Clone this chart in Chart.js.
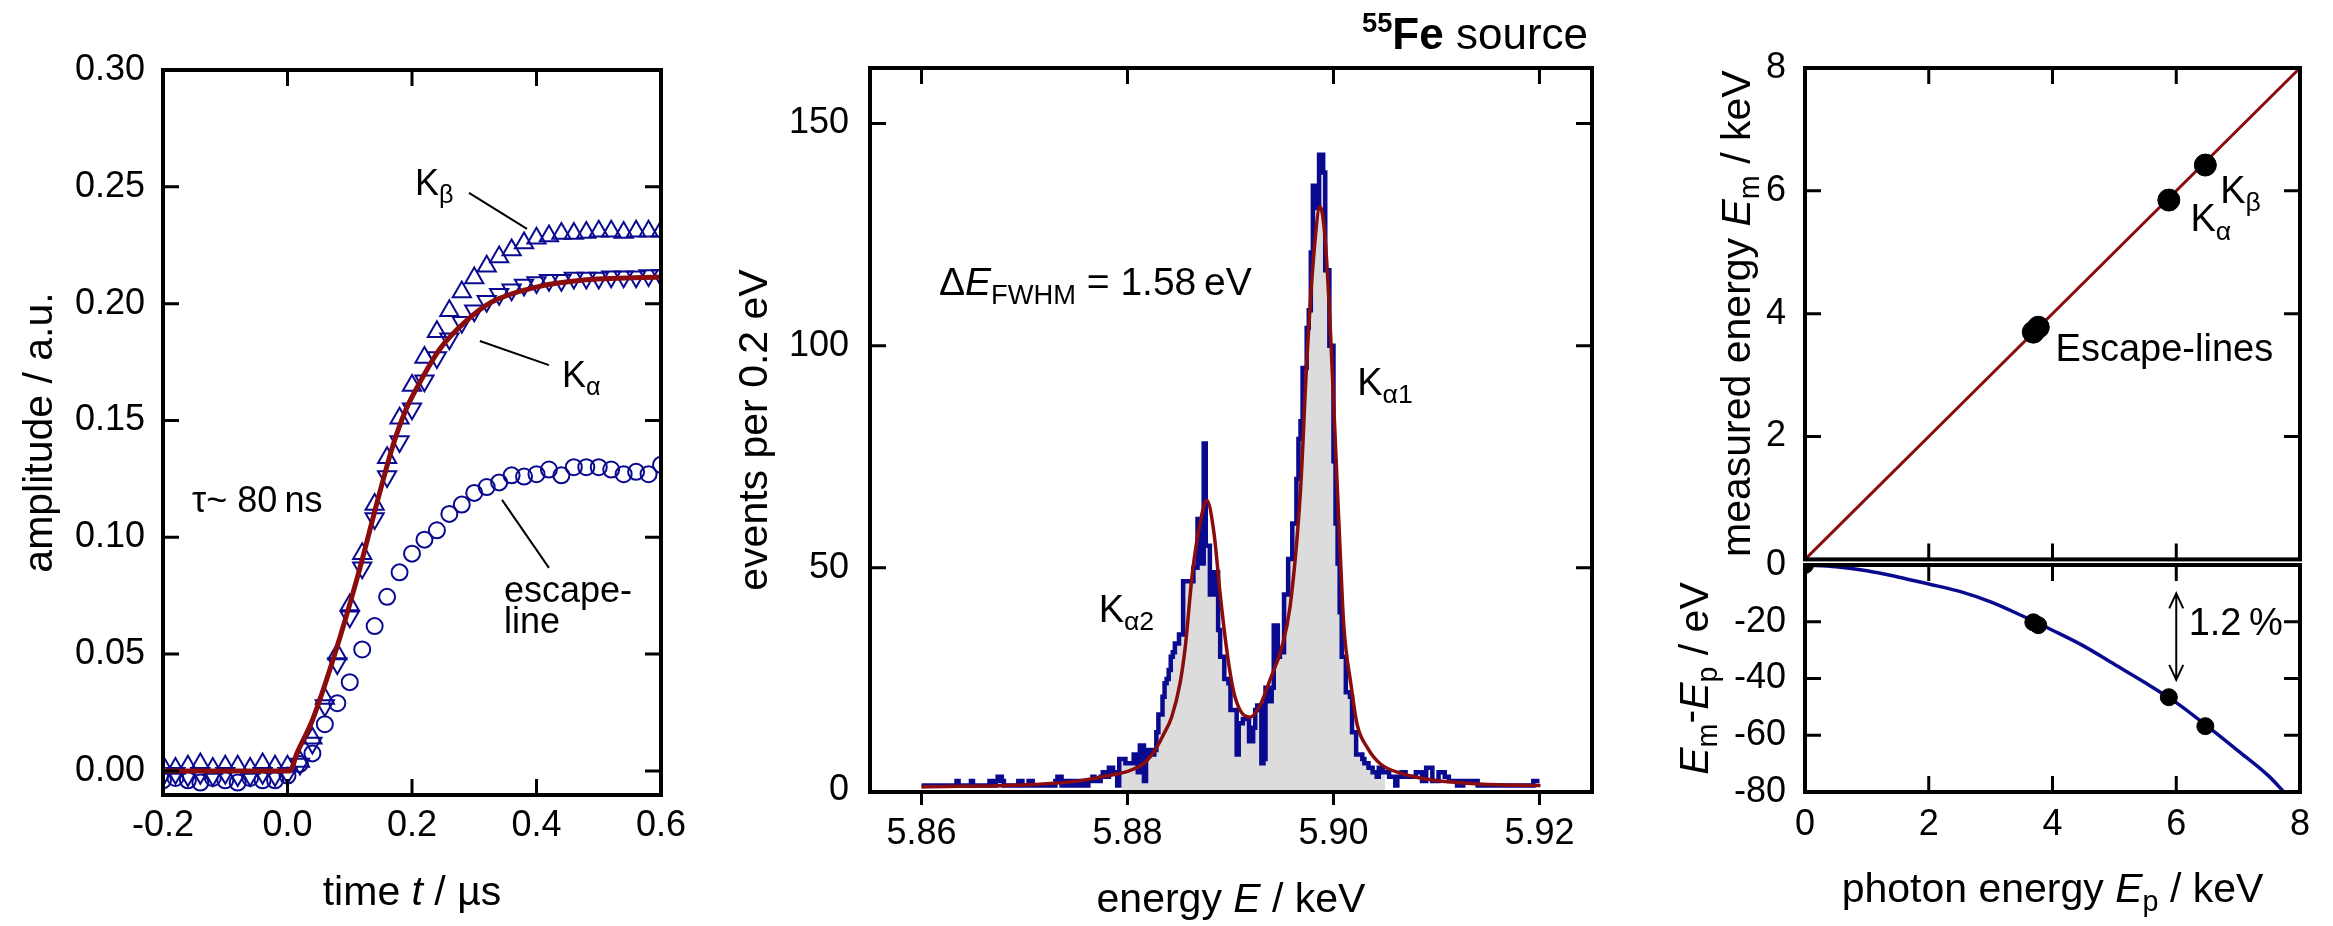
<!DOCTYPE html>
<html>
<head>
<meta charset="utf-8">
<script src="https://cdn.jsdelivr.net/npm/chart.js@4.4.1/dist/chart.umd.min.js"></script>
<style>
body { margin: 0; background: #fff; }
#wrap { position: relative; width: 2333px; height: 926px; overflow: hidden; background: #fff; }
canvas { position: absolute; }
</style>
</head>
<body>
<div id="wrap">
  <canvas id="c1" width="700" height="926" style="left:0;top:0"></canvas>
  <canvas id="c2" width="900" height="926" style="left:700px;top:0"></canvas>
  <canvas id="c3" width="733" height="600" style="left:1600px;top:0"></canvas>
  <canvas id="c4" width="733" height="426" style="left:1600px;top:500px"></canvas>
</div>
<script>
/*====== data: pulse shapes =======*/
const tAxis = [-0.20,-0.18,-0.16,-0.14,-0.12,-0.10,-0.08,-0.06,-0.04,-0.02,
  0.00,0.02,0.04,0.06,0.08,0.10,0.12,0.14,0.16,0.18,0.20,0.22,0.24,0.26,0.28,0.30,
  0.32,0.34,0.36,0.38,0.40,0.42,0.44,0.46,0.48,0.50,0.52,0.54,0.56,0.58,0.60];
const kBeta = [0.002,0.001,0.002,0.003,0.001,0.002,0.002,0.001,0.003,0.002,
  0.002,0.004,0.014,0.031,0.050,0.071,0.093,0.114,0.134,0.151,0.165,0.177,0.188,0.197,0.205,0.211,
  0.216,0.220,0.223,0.226,0.228,0.229,0.230,0.230,0.2305,0.231,0.231,0.2305,0.231,0.231,0.231];
const kAlpha = [-0.002,-0.001,-0.002,-0.001,-0.002,-0.001,-0.002,-0.002,-0.001,-0.002,
  -0.001,0.003,0.012,0.028,0.046,0.066,0.087,0.108,0.126,0.141,0.155,0.167,0.177,0.185,0.192,0.197,
  0.201,0.204,0.206,0.208,0.209,0.210,0.210,0.211,0.211,0.211,0.2115,0.2115,0.2115,0.212,0.212];
const escLine = [-0.004,-0.003,-0.004,-0.005,-0.003,-0.004,-0.005,-0.003,-0.004,-0.004,
  -0.002,0.003,0.0075,0.020,0.029,0.038,0.052,0.062,0.0745,0.085,0.093,0.099,0.103,0.110,0.114,0.119,
  0.1215,0.1235,0.1265,0.126,0.127,0.129,0.1265,0.130,0.130,0.130,0.129,0.127,0.128,0.127,0.131];
const pulseFitT = [-0.2,0.004,0.015,0.04,0.076,0.112,0.148,0.169,0.19,0.213,0.245,0.285,0.328,0.4,0.472,0.6];
const pulseFitA = [0,0,0.0075,0.0217,0.05,0.0826,0.119,0.139,0.1545,0.1665,0.1807,0.1921,0.2007,0.2071,0.21,0.2114];
const pulseXTicks = [-0.2,0.0,0.2,0.4,0.6];
const pulseYTicks = [0,0.05,0.10,0.15,0.20,0.25,0.30];

/*====== data: spectrum, 0.2 eV bins from 5.860 keV =======*/
const binStart = 5.86, binWidth = 0.0002;
const counts = [
  1,1,1,1,1,1,1,1,1,1, 1,1,1,1,1,1,1,1,2,1, 1,1,1,1,1,2,1,1,1,1, 1,1,1,1,2,1,1,2,3,3,
  2,1,1,1,1,1,1,1,2,2, 1,1,1,2,2,1,1,1,1,1, 1,1,1,1,1,1,2,3,3,1, 1,2,2,1,1,2,2,1,2,1,
  2,1,2,2,3,2,2,2,3,4, 3,3,5,5,4,4,1,7,7,7, 6,6,6,6,8,8,4,10,10,2, 9,9,8,8,9,13,17,17,21,24,
  25,27,30,31,33,33,35,35,47,47, 47,47,47,50,50,61,61,51,78,55, 55,44,44,49,49,36,30,30,25,25,
  24,18,18,18,8,15,15,16,16,16, 11,11,14,18,19,19,6,7,23,23, 20,23,37,37,30,31,31,44,44,52,
  52,60,60,70,79,83,95,95,104,108, 121,136,136,131,143,143,139,117,117,100, 100,74,60,51,40,30,30,22,22,21,
  13,13,8,8,8,7,6,6,5,5, 4,4,3,5,5,4,4,4,3,3, 3,1,3,3,4,4,3,3,3,3,
  3,4,4,4,2,2,5,5,5,2, 2,2,4,4,4,3,3,2,2,2, 2,1,2,1,2,2,2,2,2,2,
  2,1,1,1,1,1,1,1,1,1, 1,1,1,1,1,1,1,1,1,1, 1,1,1,1,1,1,1,1,2,2];
const shadeFrom = 97, shadeTo = 225;
const specFitE = [5.860,5.8703,5.8751,5.8783,5.8800,5.8816,5.8826,5.8835,5.8843,5.8851,5.8856,5.8863,5.8871,5.8877,
  5.8884,5.8890,5.8897,5.8903,5.8910,5.8919,5.8929,5.8939,5.8949,5.8958,5.8968,5.8974,5.8981,5.8987,5.8992,
  5.8997,5.9002,5.9007,5.9010,5.9017,5.9023,5.9033,5.9046,5.9065,5.9094,5.9126,5.9159,5.9201];
const specFitC = [0.7,1.2,2.0,3.3,4.2,6.0,8.7,12.5,16.5,24,32,48.8,60.7,65.2,
  57.8,44,30.5,22.2,17.7,16.4,19.2,25.2,31.5,41.5,67.5,96,120.8,131.3,123.8,
  103.5,77.3,51,37,23.7,14.7,9.5,5.8,3.8,2.3,1.6,1.2,1.0];
const specXTicks = [5.86,5.88,5.90,5.92];
const specYTicks = [0,50,100,150];

/*====== data: linearity =======*/
const photonE = [3.69,3.77,5.88,6.47];
const measuredE = [3.70,3.78,5.85,6.42];
const devE = [0,3.69,3.77,5.88,6.47];
const devVal = [0,-20.2,-21.2,-46.6,-56.8];
const devFitE = [0,0.5,1,1.5,2,2.5,3,3.5,4,4.5,5,5.5,6,6.5,7,7.5,7.74];
const devFitV = [0,-0.6,-2.0,-4.2,-6.7,-9.3,-13,-17.8,-23,-28.5,-35,-41.5,-48.5,-56.8,-65.5,-74.5,-80];
const idealLine = [0,8];
const linXTicks = [0,2,4,6,8];
const linYTicks = [2,4,6,8];
const devYTicks = [0,-20,-40,-60,-80];

/*====== helpers =======*/
const FAM = '"Liberation Sans", Arial, sans-serif';
const BLUE = '#0a0a90', RED = '#8a0c0c';
const sub = t => ({ t: t, scale: 0.7, dy: 0.22 });
const it = t => ({ t: t, style: 'italic' });

function drawRich(ctx, parts, x, y, size, align, rot) {
  ctx.save();
  ctx.translate(x, y);
  if (rot) ctx.rotate(rot);
  let w = 0;
  const seg = parts.map(p => {
    const f = (p.style || '') + ' ' + (size * (p.scale || 1)) + 'px ' + FAM;
    ctx.font = f;
    const m = ctx.measureText(p.t).width;
    w += m;
    return { t: p.t, f: f, w: m, dy: (p.dy || 0) * size };
  });
  let cx = align === 'center' ? -w / 2 : align === 'right' ? -w : 0;
  ctx.fillStyle = '#000';
  ctx.textAlign = 'left';
  ctx.textBaseline = 'alphabetic';
  seg.forEach(s => { ctx.font = s.f; ctx.fillText(s.t, cx, s.dy); cx += s.w; });
  ctx.restore();
}

function boxPlugin(spec) {
  return {
    id: 'box',
    afterDatasetsDraw(chart) {
      const { ctx, chartArea: a, scales: { x, y } } = chart;
      const L = 16;
      ctx.save();
      ctx.strokeStyle = '#000';
      ctx.lineWidth = 3;
      ctx.beginPath();
      (spec.xt || []).forEach(v => {
        const px = x.getPixelForValue(v);
        if (spec.top !== false) { ctx.moveTo(px, a.top); ctx.lineTo(px, a.top + L); }
        if (spec.out) { ctx.moveTo(px, a.bottom); ctx.lineTo(px, a.bottom + spec.out); }
        else { ctx.moveTo(px, a.bottom); ctx.lineTo(px, a.bottom - L); }
      });
      (spec.yt || []).forEach(v => {
        const py = y.getPixelForValue(v);
        ctx.moveTo(a.left, py); ctx.lineTo(a.left + L, py);
        ctx.moveTo(a.right, py); ctx.lineTo(a.right - L, py);
      });
      ctx.stroke();
      ctx.lineWidth = 4;
      ctx.strokeRect(a.left, a.top, a.right - a.left, a.bottom - a.top);
      // leader lines / arrows in data coords
      ctx.lineWidth = 2;
      (spec.lines || []).forEach(l => {
        ctx.beginPath();
        ctx.moveTo(x.getPixelForValue(l[0]), y.getPixelForValue(l[1]));
        ctx.lineTo(x.getPixelForValue(l[2]), y.getPixelForValue(l[3]));
        ctx.stroke();
      });
      (spec.arrows || []).forEach(l => {
        const px = x.getPixelForValue(l[0]), p1 = y.getPixelForValue(l[1]), p2 = y.getPixelForValue(l[2]);
        ctx.beginPath();
        ctx.moveTo(px, p1); ctx.lineTo(px, p2);
        ctx.moveTo(px - 7, p1 + 15); ctx.lineTo(px, p1); ctx.lineTo(px + 7, p1 + 15);
        ctx.moveTo(px - 7, p2 - 15); ctx.lineTo(px, p2); ctx.lineTo(px + 7, p2 - 15);
        ctx.stroke();
      });
      ctx.restore();
      (spec.texts || []).forEach(t => {
        drawRich(ctx, t.p, x.getPixelForValue(t.x), y.getPixelForValue(t.y), t.s, 'left');
      });
      if (spec.xTitle) drawRich(ctx, spec.xTitle, (a.left + a.right) / 2, a.bottom + spec.xTitleDy, 41, 'center');
      if (spec.yTitle) drawRich(ctx, spec.yTitle, a.left - spec.yTitleDx, (a.top + a.bottom) / 2, 41, 'center', -Math.PI / 2);
      if (spec.extra) spec.extra(ctx, a);
    }
  };
}

function axis(min, max, vals, fmt, size, pad, show) {
  return {
    type: 'linear', min: min, max: max, display: show !== false,
    grid: { display: false, drawTicks: false },
    border: { display: false },
    afterBuildTicks: s => { s.ticks = vals.map(v => ({ value: v })); },
    afterFit: s => { if (s.isHorizontal()) s.height = size; else s.width = size; },
    ticks: { autoSkip: false, maxRotation: 0, padding: pad, color: '#000',
      font: { family: FAM, size: 36 }, callback: fmt }
  };
}

function mkChart(id, datasets, xs, ys, padding, plugin) {
  return new Chart(document.getElementById(id), {
    type: 'scatter',
    data: { datasets: datasets },
    options: {
      responsive: false, animation: false, events: [],
      layout: { padding: padding },
      plugins: { legend: { display: false }, tooltip: { enabled: false } },
      scales: { x: xs, y: ys }
    },
    plugins: [plugin]
  });
}

const pts = (xa, ya) => xa.map((v, i) => ({ x: v, y: ya[i] }));

/*====== panel 1: pulse shapes =======*/
mkChart('c1', [
  { data: pts(pulseFitT, pulseFitA), showLine: true, borderColor: RED, borderWidth: 5, pointRadius: 0,
    cubicInterpolationMode: 'monotone', clip: 0 },
  { data: pts(tAxis, kBeta), pointStyle: 'triangle', pointRadius: 10.5, borderColor: BLUE, borderWidth: 2,
    backgroundColor: 'rgba(0,0,0,0)', clip: 0 },
  { data: pts(tAxis, kAlpha), pointStyle: 'triangle', rotation: 180, pointRadius: 10.5, borderColor: BLUE,
    borderWidth: 2, backgroundColor: 'rgba(0,0,0,0)', clip: 0 },
  { data: pts(tAxis, escLine), pointStyle: 'circle', pointRadius: 8, borderColor: BLUE, borderWidth: 2,
    backgroundColor: 'rgba(0,0,0,0)', clip: 0 }
],
  axis(-0.2, 0.6, pulseXTicks, v => v.toFixed(1), 131, 9),
  axis(-0.0103, 0.30, pulseYTicks, v => v.toFixed(2), 163, 18),
  { top: 70, right: 39, left: 0, bottom: 0 },
  boxPlugin({
    xt: [0, 0.2, 0.4], yt: [0, 0.05, 0.10, 0.15, 0.20, 0.25],
    lines: [[0.2916, 0.2474, 0.3847, 0.232], [0.309, 0.184, 0.42, 0.1737], [0.3446, 0.116, 0.42, 0.0869]],
    texts: [
      { x: 0.205, y: 0.2465, s: 36, p: [{ t: 'K' }, sub('β')] },
      { x: 0.441, y: 0.1643, s: 36, p: [{ t: 'K' }, sub('α')] },
      { x: -0.1534, y: 0.1108, s: 36, p: [{ t: 'τ~ 80\u2009ns' }] },
      { x: 0.3478, y: 0.0723, s: 36, p: [{ t: 'escape-' }] },
      { x: 0.3478, y: 0.059, s: 36, p: [{ t: 'line' }] }
    ],
    xTitle: [{ t: 'time ' }, it('t'), { t: ' / µs' }], xTitleDy: 110,
    yTitle: [{ t: 'amplitude / a.u.' }], yTitleDx: 111
  }));

/*====== panel 2: spectrum =======*/
const histPts = counts.map((c, i) => ({ x: binStart + i * binWidth, y: c }));
histPts.push({ x: binStart + counts.length * binWidth, y: counts[counts.length - 1] });
const shadePts = histPts.slice(shadeFrom, shadeTo + 1);

mkChart('c2', [
  { data: pts(specFitE, specFitC), showLine: true, borderColor: RED, borderWidth: 3.5, pointRadius: 0,
    cubicInterpolationMode: 'monotone', clip: 0 },
  { data: histPts, showLine: true, stepped: 'after', borderColor: BLUE, borderWidth: 4.5, pointRadius: 0, clip: 0 },
  { data: shadePts, showLine: true, stepped: 'after', borderWidth: 0, borderColor: 'rgba(0,0,0,0)', pointRadius: 0,
    backgroundColor: '#dcdcdc', fill: 'origin', clip: 0 }
],
  axis(5.8550, 5.9251, specXTicks, v => v.toFixed(2), 134, 20),
  axis(-0.45, 162.5, specYTicks, v => String(v), 170, 21),
  { top: 68, right: 8, left: 0, bottom: 0 },
  boxPlugin({
    xt: specXTicks, out: 13, yt: [50, 100, 150],
    texts: [
      { x: 5.8617, y: 111.4, s: 39, p: [{ t: 'Δ' }, it('E'), sub('FWHM'), { t: ' = 1.58\u2009eV' }] },
      { x: 5.9023, y: 88.9, s: 38, p: [{ t: 'K' }, sub('α1')] },
      { x: 5.8772, y: 37.8, s: 38, p: [{ t: 'K' }, sub('α2')] }
    ],
    xTitle: [{ t: 'energy ' }, it('E'), { t: ' / keV' }], xTitleDy: 120,
    yTitle: [{ t: 'events per 0.2 eV' }], yTitleDx: 103,
    extra: (ctx, a) => {
      drawRich(ctx, [{ t: '55', style: 'bold', scale: 0.62, dy: -0.38 }, { t: 'Fe', style: 'bold' }, { t: ' source' }],
        a.right - 4, a.top - 19, 44, 'right');
    }
  }));

/*====== panel 3: linearity =======*/
mkChart('c3', [
  { data: pts(photonE, measuredE), pointRadius: 11, backgroundColor: '#000', borderColor: '#000', clip: 0 },
  { data: pts(idealLine, idealLine), showLine: true, borderColor: RED, borderWidth: 3, pointRadius: 0, clip: 0 }
],
  axis(0, 8, linXTicks, v => String(v), 0, 10, false),
  axis(0, 8, linYTicks, v => String(v), 205, 19),
  { top: 68, right: 33, left: 0, bottom: 35 },
  boxPlugin({
    xt: [2, 4, 6], yt: [2, 4, 6],
    texts: [
      { x: 6.71, y: 5.81, s: 38, p: [{ t: 'K' }, sub('β')] },
      { x: 6.23, y: 5.34, s: 38, p: [{ t: 'K' }, sub('α')] },
      { x: 4.05, y: 3.23, s: 38, p: [{ t: 'Escape-lines' }] }
    ],
    yTitle: [{ t: 'measured energy ' }, it('E'), sub('m'), { t: ' / keV' }], yTitleDx: 55
  }));

mkChart('c4', [
  { data: pts(devE, devVal), pointRadius: 8.5, backgroundColor: '#000', borderColor: '#000', clip: 0 },
  { data: pts(devFitE, devFitV), showLine: true, borderColor: BLUE, borderWidth: 3.5, pointRadius: 0,
    cubicInterpolationMode: 'monotone', clip: 0 }
],
  axis(0, 8, linXTicks, v => String(v), 134, 11),
  axis(-80, 0, devYTicks, v => String(v), 205, 19),
  { top: 65, right: 33, left: 0, bottom: 0 },
  boxPlugin({
    xt: [2, 4, 6], yt: [-20, -40, -60],
    arrows: [[6.0, -10, -40.5]],
    texts: [{ x: 6.2, y: -24.7, s: 38, p: [{ t: '1.2\u2009%' }] }],
    xTitle: [{ t: 'photon energy ' }, it('E'), sub('p'), { t: ' / keV' }], xTitleDy: 110,
    yTitle: [it('E'), sub('m'), { t: '-', dy: -0.12 }, it('E'), sub('p'), { t: ' / eV' }], yTitleDx: 97
  }));
</script>
</body>
</html>
